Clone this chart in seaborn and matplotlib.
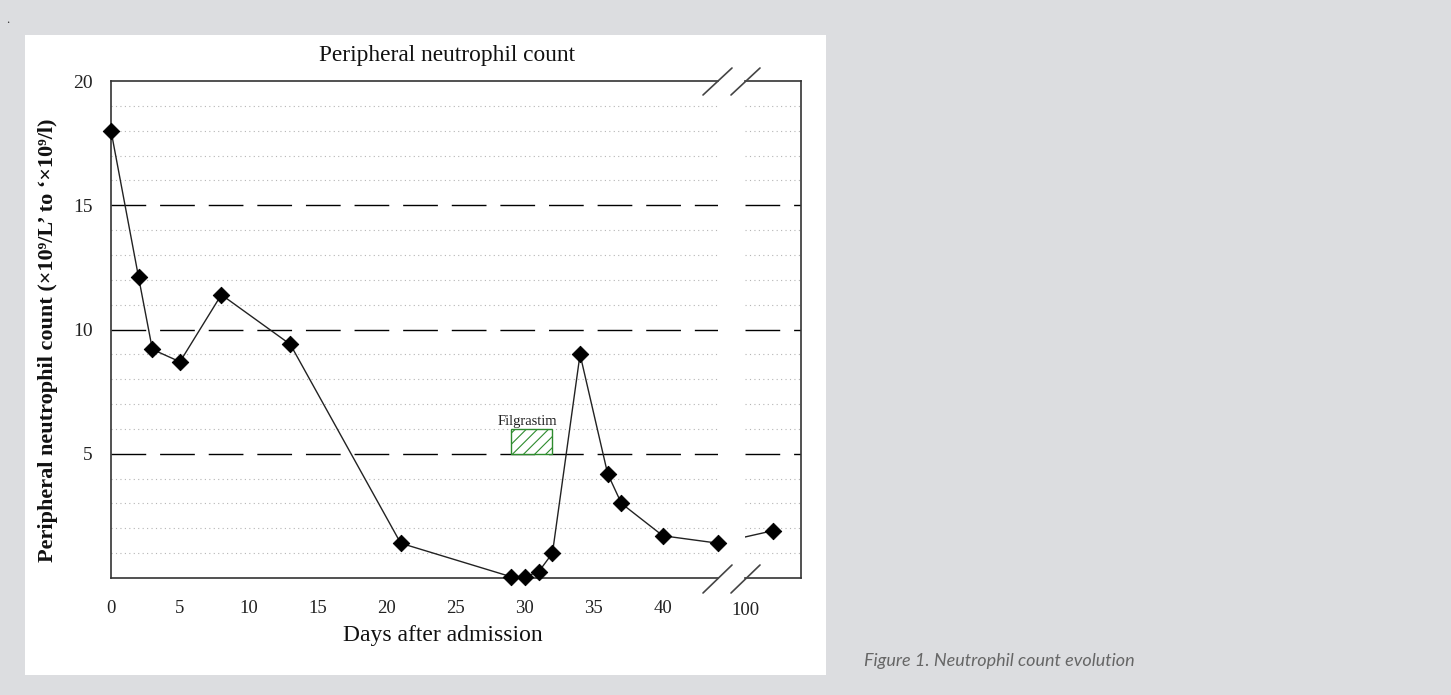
import numpy as np
import pandas as pd
import matplotlib.pyplot as plt
import seaborn as sns
from matplotlib.lines import Line2D
from matplotlib.patches import Rectangle

# values
days = [0, 2, 3, 5, 8, 13, 21, 29, 30, 31, 32, 34, 36, 37, 40, 44, 102]
counts = [18.0, 12.1, 9.2, 8.7, 11.4, 9.4, 1.4, 0.05, 0.05, 0.25, 1.0, 9.0, 4.2, 3.0, 1.7, 1.4, 1.9]
left_xticks = [0, 5, 10, 15, 20, 25, 30, 35, 40]
right_xticks = [100]
y_ticks = [5, 10, 15, 20]
ref_levels = [5, 10, 15]
minor_levels = [1, 2, 3, 4, 6, 7, 8, 9, 11, 12, 13, 14, 16, 17, 18, 19]
filgrastim_days = (29, 32)
filgrastim_band = (5, 6)

# broken x axis: left part ends at day 44, right part starts at day 100,
# the blank between them is worth about 2 days on the page
break_at, resume_at, gap = 44, 100, 2
skip = resume_at - break_at - gap

df = pd.DataFrame({'day': days, 'count': counts})
# positions so the connecting line runs straight across the break
df['pos_left'] = np.where(df['day'] >= resume_at, df['day'] - skip, df['day'])
df['pos_right'] = np.where(df['day'] < resume_at, df['day'] + skip, df['day'])

W, H = 1451, 695
sns.set_style('white')
plt.rcParams['font.family'] = ['Liberation Serif', 'DejaVu Serif']
plt.rcParams['hatch.color'] = '#5aad5a'
plt.rcParams['hatch.linewidth'] = 0.8

fig = plt.figure(figsize=(W / 100, H / 100), dpi=100, facecolor='#dcdde0')
fig.add_artist(Rectangle((25 / W, 20 / H), 801 / W, 640 / H, transform=fig.transFigure,
                         facecolor='white', edgecolor='none', zorder=0))

ax1 = fig.add_axes([111 / W, 117 / H, 607 / W, 497 / H])
ax2 = fig.add_axes([745 / W, 117 / H, 56 / W, 497 / H])

for ax, lo, hi, ticks, pos in [(ax1, 0, break_at, left_xticks, 'pos_left'),
                               (ax2, resume_at, 104.06, right_xticks, 'pos_right')]:
    ax.set_facecolor('none')
    for lv in minor_levels:
        ax.axhline(lv, color='#b5b5b5', lw=0.8, ls=(0, (1, 3)), zorder=1)
    for lv in ref_levels:
        ax.axhline(lv, color='black', lw=1.0, ls=(0, (25, 10)), zorder=1)
    sns.lineplot(data=df, x=pos, y='count', ax=ax, color='#222222', lw=1.0,
                 sort=False, zorder=3, estimator=None)
    pts = df[(df['day'] >= lo) & (df['day'] <= hi)]
    sns.scatterplot(data=pts, x='day', y='count', ax=ax, marker='D', s=70,
                    color='black', edgecolor='black', zorder=4, clip_on=False)
    ax.set_xlim(lo, hi)
    ax.set_ylim(0, 20)
    ax.set_xticks(ticks)
    ax.set_xlabel('')
    ax.set_ylabel('')
    for s in ax.spines.values():
        s.set_color('#333333')
        s.set_linewidth(1.2)
    ax.tick_params(axis='x', direction='inout', length=11, width=1.0, color='#333333',
                   labelsize=13.5, labelcolor='#222222', pad=10)

ax1.spines['right'].set_visible(False)
ax2.spines['left'].set_visible(False)
ax1.set_yticks(y_ticks)
ax1.tick_params(axis='y', direction='out', length=8, width=1.0, color='#333333',
                labelsize=14, labelcolor='#222222', pad=5)
ax2.set_yticks([])
ax2.tick_params(axis='x', length=0, pad=17)

# Filgrastim treatment box
ax1.add_patch(Rectangle((filgrastim_days[0], filgrastim_band[0]),
                        filgrastim_days[1] - filgrastim_days[0],
                        filgrastim_band[1] - filgrastim_band[0],
                        facecolor='white', edgecolor='#2e8b2e', lw=1.0, hatch='///', zorder=5))
ax1.text(30.2, 6.05, 'Filgrastim', ha='center', va='bottom', fontsize=10.5, color='#222222', zorder=6)

# axis break marks
for y0, y1 in [(95, 68), (593, 565)]:
    for x0 in (703, 731):
        fig.add_artist(Line2D([x0 / W, (x0 + 29) / W], [1 - y0 / H, 1 - y1 / H],
                              transform=fig.transFigure, color='#444444', lw=1.2))

fig.text(447 / W, 1 - 55 / H, 'Peripheral neutrophil count', ha='center', va='center',
         fontsize=16.8, color='#111111')
fig.text(443 / W, 1 - 636 / H, 'Days after admission', ha='center', va='center',
         fontsize=17, color='#111111')
fig.text(48 / W, 1 - 340 / H, 'Peripheral neutrophil count (×10⁹/L’ to ‘×10⁹/l)',
         rotation=90, ha='center', va='center', fontsize=16, fontweight='bold', color='#111111')
fig.text(999 / W, 1 - 661 / H, 'Figure 1. Neutrophil count evolution', ha='center', va='center',
         fontsize=13, style='italic', color='#666666', family=['Lato', 'DejaVu Sans'])
fig.text(6 / W, 1 - 20 / H, '.', ha='left', va='center', fontsize=9, color='#333333')

fig.savefig('out.png', dpi=100, facecolor=fig.get_facecolor())
